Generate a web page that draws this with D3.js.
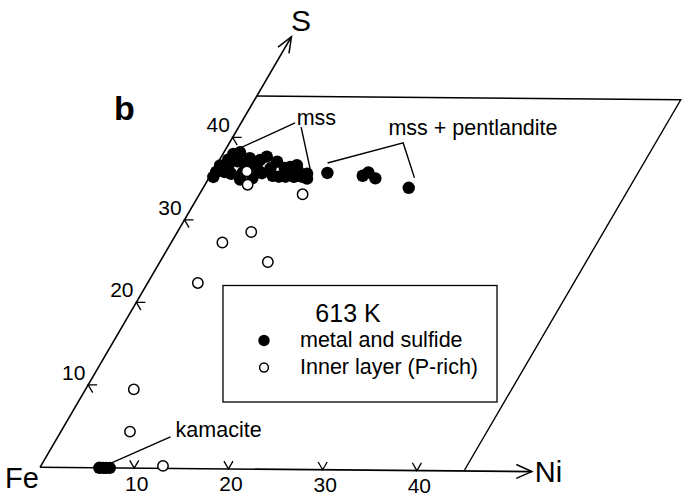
<!DOCTYPE html>
<html>
<head>
<meta charset="utf-8">
<script src="https://cdn.jsdelivr.net/npm/d3@7"></script>
<style>
  body { margin: 0; background: #fff; }
  svg { display: block; }
  text { font-family: "Liberation Sans", Arial, Helvetica, sans-serif; fill: #000; }
</style>
</head>
<body>
<svg id="chart" width="692" height="497"></svg>
<script>
// Fe–Ni–S compositions (at.%) on 60° oblique axes: Ni along the base, S up the left edge.

// metal and sulfide (filled): mss cluster, mss + pentlandite, kamacite
const sulfideNi = [0.4, 0.4, 1.3, 1.1, 2.0, 2.1, 3.4, 2.9, 4.0, 4.6, 4.3, 4.8, 5.3, 5.9, 6.2,
                   7.3, 8.0, 7.9, 8.5, 8.9, 9.8, 10.1, 10.4, 0.4, 0.9,
                   1.4, 3.25, 4.7, 6.6, 7.4, 9.1, 3.1, 1.7,
                   12.2, 16.1, 16.5, 17.6, 21.7];
const sulfideS  = [35.2, 36.6, 35.8, 38.0, 37.1, 35.6, 34.9, 36.9, 36.5, 35.1, 37.3, 37.7, 35.7, 36.3, 37.1,
                   35.3, 35.3, 36.5, 36.7, 35.3, 35.3, 35.7, 35.1, 35.8, 37.3,
                   36.3, 35.8, 36.1, 35.4, 36.35, 35.9, 37.5, 38.2,
                   35.8, 35.5, 35.9, 35.2, 34.1];
const kamaciteNi = [6.3, 6.7, 7.0, 7.4];
const kamaciteS  = [0, 0, 0, 0];

// inner layer (P-rich), open circles
const innerNi = [3.6, 4.5, 10.9, 7.8, 5.4, 11.4, 5.3, 5.1, 7.3, 12.9];
const innerS  = [35.9, 34.3, 33.2, 28.6, 27.3, 25.0, 22.4, 9.5, 4.4, 0.3];

const niTicks = [10, 20, 30, 40];
const sTicks  = [10, 20, 30, 40];
const frameMax = 45;   // parallelogram edge
const axisMax  = 52.2; // arrow tips

// annotation anchors in composition units [Ni, S]
const mssLeaderA = [[1.3, 38.6], [5.7, 41.8]];
const mssLeaderB = [[6.6, 41.3], [10.25, 36.1]];
const mssLabel   = [6.0, 41.55];
const pentLeader = [[11.6, 37.0], [18.35, 39.5], [21.7, 35.3]];
const pentLabel  = [16.3, 40.45];
const kamLeader  = [[7.2, 0.55], [11.9, 3.8]];
const kamLabel   = [12.45, 3.8];

const svg = d3.select("#chart");

// scales: length along each oblique axis
const niScale = d3.scaleLinear().domain([0, frameMax]).range([0, 424]);
const sScale  = d3.scaleLinear().domain([0, frameMax]).range([0, 429.9]);
const origin = [40, 467.3];
const niAng = 0.5 * Math.PI / 180;
const sAng  = -59.72 * Math.PI / 180;
const niDir = [Math.cos(niAng), Math.sin(niAng)];
const sDir  = [Math.cos(sAng), Math.sin(sAng)];

function P(ni, s) {
  const a = niScale(ni), b = sScale(s);
  return [origin[0] + a * niDir[0] + b * sDir[0], origin[1] + a * niDir[1] + b * sDir[1]];
}
const line = d3.line();

const g = svg.append("g").attr("fill", "none").attr("stroke", "#000");

// frame: top and right edges
g.append("path")
  .attr("stroke-width", 1.4)
  .attr("d", line([P(0, frameMax), P(frameMax, frameMax), P(frameMax, 0)]));

// axes with open arrowheads
function arrow(tip, dir, len, half) {
  const back = [-dir[0], -dir[1]];
  const rot = (v, t) => [v[0] * Math.cos(t) - v[1] * Math.sin(t), v[0] * Math.sin(t) + v[1] * Math.cos(t)];
  const a = rot(back, half), b = rot(back, -half);
  return line([[tip[0] + a[0] * len, tip[1] + a[1] * len], tip, [tip[0] + b[0] * len, tip[1] + b[1] * len]]);
}
g.append("path").attr("stroke-width", 1.6).attr("d", line([P(0, 0), P(axisMax, 0)]));
g.append("path").attr("stroke-width", 1.6).attr("d", line([P(0, 0), P(0, axisMax)]));
g.append("path").attr("stroke-width", 1.5).attr("d", arrow(P(axisMax, 0), niDir, 17, 24 * Math.PI / 180));
g.append("path").attr("stroke-width", 1.5).attr("d", arrow(P(0, axisMax), sDir, 17, 22 * Math.PI / 180));

// ticks: "v" on the Ni axis, "<" on the S axis
const tl = 9;
const upLeft = [-0.5, -0.866];
const downRight = [0.5, 0.866];
g.selectAll(".niTick").data(niTicks).join("path")
  .attr("stroke-width", 1.3)
  .attr("d", t => {
    const v = P(t, 0);
    return line([[v[0] + upLeft[0] * tl, v[1] + upLeft[1] * tl], v, [v[0] + sDir[0] * tl, v[1] + sDir[1] * tl]]);
  });
g.selectAll(".sTick").data(sTicks).join("path")
  .attr("stroke-width", 1.3)
  .attr("d", t => {
    const v = P(0, t);
    return line([[v[0] + tl, v[1]], v, [v[0] + downRight[0] * tl, v[1] + downRight[1] * tl]]);
  });

// tick labels
svg.selectAll(".niLab").data(niTicks).join("text")
  .attr("x", t => P(t, 0)[0] + 2.5)
  .attr("y", t => P(t, 0)[1] + 22.5)
  .attr("text-anchor", "middle")
  .attr("font-size", 21)
  .text(d => d);
svg.selectAll(".sLab").data(sTicks).join("text")
  .attr("x", t => P(0, t)[0] - 14.5)
  .attr("y", t => P(0, t)[1] - 12.5 + 7.5)
  .attr("text-anchor", "middle")
  .attr("font-size", 21)
  .text(d => d);

// axis end labels
const fe = P(0, 0), niTip = P(axisMax, 0), sTip = P(0, axisMax);
svg.append("text").attr("x", fe[0] - 35).attr("y", fe[1] + 21).attr("font-size", 29).text("Fe");
svg.append("text").attr("x", niTip[0] + 3).attr("y", niTip[1] + 10).attr("font-size", 29).text("Ni");
svg.append("text").attr("x", sTip[0] + 9.5).attr("y", sTip[1] - 5.5).attr("text-anchor", "middle").attr("font-size", 30).text("S");

// panel letter
svg.append("text").attr("x", 114).attr("y", 120).attr("font-size", 34).attr("font-weight", "bold").text("b");

// leader lines
[mssLeaderA, mssLeaderB, pentLeader, kamLeader].forEach(pts => {
  g.append("path").attr("stroke-width", 1.4).attr("d", line(pts.map(p => P(p[0], p[1]))));
});

// annotation labels
const ann = [[mssLabel, "mss"], [pentLabel, "mss + pentlandite"], [kamLabel, "kamacite"]];
ann.forEach(([p, txt]) => {
  const q = P(p[0], p[1]);
  svg.append("text").attr("x", q[0]).attr("y", q[1]).attr("font-size", 21.5).text(txt);
});

// points
const filled = d3.zip(sulfideNi.concat(kamaciteNi), sulfideS.concat(kamaciteS));
const open = d3.zip(innerNi, innerS);

svg.append("g").selectAll("circle").data(filled).join("circle")
  .attr("cx", d => P(d[0], d[1])[0])
  .attr("cy", d => P(d[0], d[1])[1])
  .attr("r", 6.2)
  .attr("fill", "#000");

svg.append("g").selectAll("circle").data(open).join("circle")
  .attr("cx", d => P(d[0], d[1])[0])
  .attr("cy", d => P(d[0], d[1])[1])
  .attr("r", 5.2)
  .attr("fill", "#fff")
  .attr("stroke", "#000")
  .attr("stroke-width", 1.5);

// legend
const lg = svg.append("g");
lg.append("rect").attr("x", 223).attr("y", 285.5).attr("width", 274).attr("height", 116.5)
  .attr("fill", "#fff").attr("stroke", "#000").attr("stroke-width", 1.3);
lg.append("text").attr("x", 348).attr("y", 322).attr("text-anchor", "middle").attr("font-size", 25).text("613 K");
lg.append("circle").attr("cx", 264).attr("cy", 340.5).attr("r", 5.7).attr("fill", "#000");
lg.append("text").attr("x", 300).attr("y", 347).attr("font-size", 21.5).text("metal and sulfide");
lg.append("circle").attr("cx", 264).attr("cy", 367.5).attr("r", 4.4).attr("fill", "#fff").attr("stroke", "#000").attr("stroke-width", 1.5);
lg.append("text").attr("x", 300).attr("y", 374).attr("font-size", 21.5).text("Inner layer (P-rich)");
</script>
</body>
</html>
